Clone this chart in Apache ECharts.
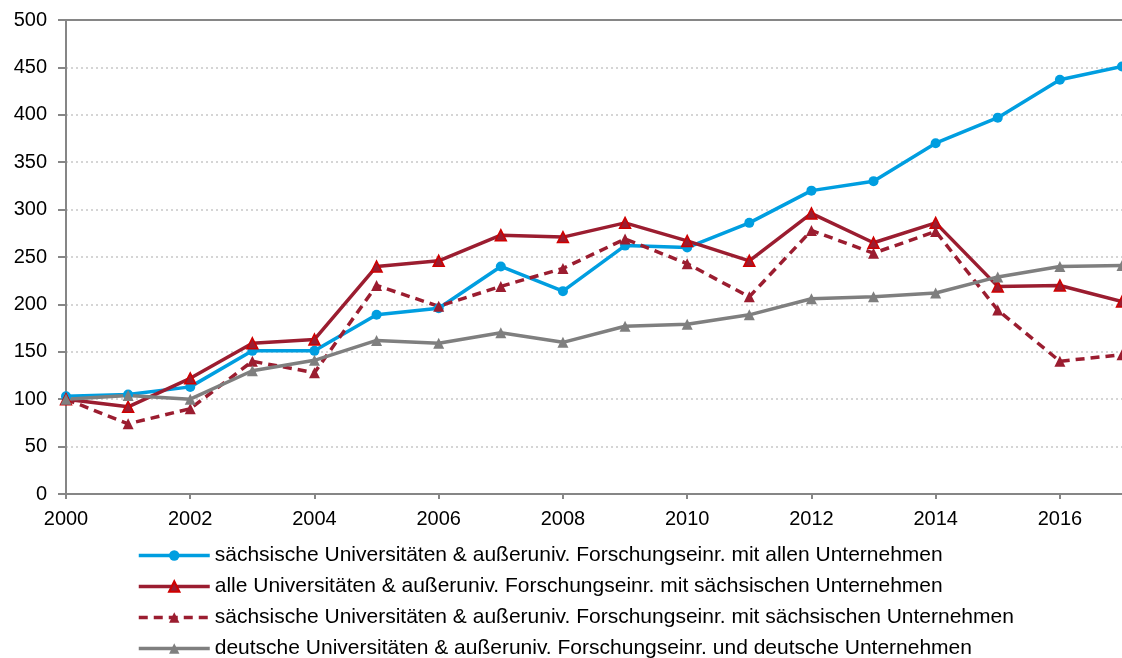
<!DOCTYPE html>
<html>
<head>
<meta charset="utf-8">
<script src="https://cdn.jsdelivr.net/npm/echarts@6/dist/echarts.min.js"></script>
<style>
  html, body { margin: 0; padding: 0; background: #fff; }
  #chart { width: 1122px; height: 658px; }
</style>
</head>
<body>
<div id="chart"></div>
<script>
// Jahre (2017 liegt knapp rechts außerhalb des sichtbaren Bereichs)
var years = [2000, 2001, 2002, 2003, 2004, 2005, 2006, 2007, 2008, 2009, 2010, 2011, 2012, 2013, 2014, 2015, 2016, 2017]

var seriesNames = [
  'sächsische Universitäten & außeruniv. Forschungseinr. mit allen Unternehmen',
  'alle Universitäten & außeruniv. Forschungseinr. mit sächsischen Unternehmen',
  'sächsische Universitäten & außeruniv. Forschungseinr. mit sächsischen Unternehmen',
  'deutsche Universitäten & außeruniv. Forschungseinr. und deutsche Unternehmen'
]

var saxAll = [103, 105, 113, 151, 151, 189, 196, 240, 214, 262, 260, 286, 320, 330, 370, 397, 437, 451]
var allSax = [100, 92, 122, 159, 163, 240, 246, 273, 271, 286, 267, 246, 296, 265, 286, 219, 220, 203]
var saxSax = [100, 74, 90, 140, 128, 220, 198, 219, 238, 269, 243, 208, 278, 254, 277, 194, 140, 147]
var deDe = [100, 104, 100, 130, 141, 162, 159, 170, 160, 177, 179, 189, 206, 208, 212, 229, 240, 241]

var FONT = '"Liberation Sans", Arial, sans-serif'

function pairs(values) {
  return years.map(function (y, i) { return [y, values[i]] })
}

var chart = echarts.init(document.getElementById('chart'))

chart.setOption({
  backgroundColor: '#fff',
  animation: false,
  textStyle: { fontFamily: FONT },
  grid: {
    left: 66,
    right: -7,
    top: 20,
    bottom: 164
  },
  legend: {
    orient: 'vertical',
    left: 137,
    top: 545,
    height: 140,
    padding: 0,
    itemWidth: 71,
    itemHeight: 13,
    itemGap: 10,
    lineStyle: { width: 3.5 },
    textStyle: { fontSize: 21, color: '#000', fontFamily: FONT },
    data: seriesNames
  },
  xAxis: [{
    type: 'value',
    min: 2000,
    max: 2017,
    interval: 2,
    axisLine: { show: true, lineStyle: { color: '#868686', width: 2 } },
    axisTick: { show: true, length: 5, lineStyle: { color: '#868686', width: 2 } },
    axisLabel: {
      color: '#000',
      fontSize: 20,
      margin: 15,
      showMaxLabel: false,
      formatter: function (v) { return v % 2 === 0 ? String(v) : '' }
    },
    splitLine: { show: false }
  }, {
    type: 'value',
    position: 'top',
    min: 2000,
    max: 2017,
    axisLine: { show: true, onZero: false, lineStyle: { color: '#868686', width: 2 } },
    axisTick: { show: false },
    axisLabel: { show: false },
    splitLine: { show: false }
  }],
  yAxis: {
    type: 'value',
    min: 0,
    max: 500,
    interval: 50,
    axisLine: { show: true, lineStyle: { color: '#868686', width: 2 } },
    axisTick: { show: true, inside: false, length: 8, lineStyle: { color: '#868686', width: 2 } },
    axisLabel: { color: '#000', fontSize: 20, margin: 19 },
    splitLine: { show: true, lineStyle: { color: '#c8c8c8', type: [2, 3], width: 1.5 } }
  },
  series: [
    {
      name: seriesNames[0],
      type: 'line',
      data: pairs(saxAll),
      symbol: 'circle',
      symbolSize: 10,
      lineStyle: { color: '#009ee0', width: 3.5 },
      itemStyle: { color: '#009ee0' }
    },
    {
      name: seriesNames[1],
      type: 'line',
      data: pairs(allSax),
      symbol: 'triangle',
      symbolSize: 11,
      lineStyle: { color: '#9b1d30', width: 3.5 },
      itemStyle: { color: '#9b1d30', borderColor: '#d00000', borderWidth: 1.5 }
    },
    {
      name: seriesNames[2],
      type: 'line',
      data: pairs(saxSax),
      symbol: 'triangle',
      symbolSize: 11,
      lineStyle: { color: '#9b1d30', width: 3.5, type: [9, 6] },
      itemStyle: { color: '#9b1d30' }
    },
    {
      name: seriesNames[3],
      type: 'line',
      data: pairs(deDe),
      symbol: 'triangle',
      symbolSize: 11,
      lineStyle: { color: '#7f7f7f', width: 3.5 },
      itemStyle: { color: '#7f7f7f' }
    }
  ]
})
</script>
</body>
</html>
